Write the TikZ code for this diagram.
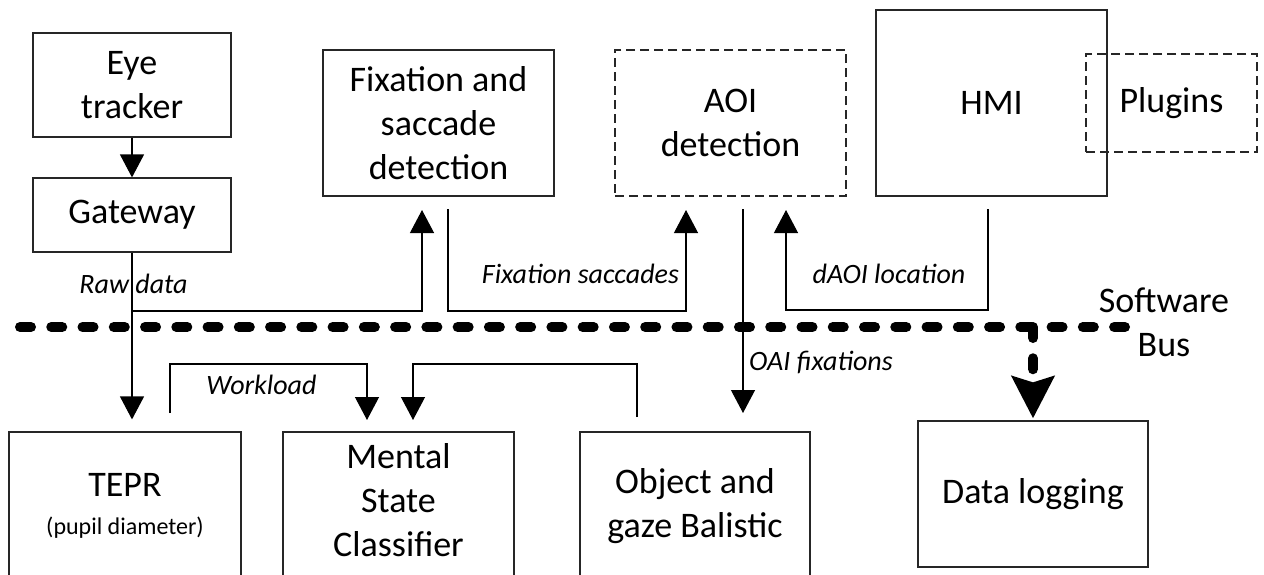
\documentclass[tikz,border=0pt]{standalone}
\usepackage{fontspec}
\setmainfont{Carlito}
\usetikzlibrary{arrows.meta,calc}
\begin{document}
\begin{tikzpicture}[x=1pt,y=-1pt,
  box/.style={draw=black!85, line width=1.2pt, inner sep=0pt, align=center,
    font=\fontsize{36}{44}\selectfont},
  dbox/.style={box, dash pattern=on 9pt off 5pt},
  lbl/.style={inner sep=0pt, font=\fontsize{28}{34}\selectfont\itshape},
  arr/.style={draw=black, line width=1.2pt, -{Triangle[width=24pt,length=23pt]}},
  busline/.style={draw=black, line width=10pt, line cap=round, dash pattern=on 11pt off 20.26pt},
]
\useasboundingbox[fill=white] (0,0) rectangle (1264,574);

% top row
\node[box, minimum width=198pt, minimum height=104pt] (eye) at (132,85) {Eye\\tracker};
\node[box, minimum width=198pt, minimum height=74pt] (gw) at (132,215) {Gateway};
\node[box, minimum width=231pt, minimum height=146pt] (fix) at (438.5,123) {Fixation and\\saccade\\detection};
\node[dbox, minimum width=231pt, minimum height=146pt] (aoi) at (730.5,123) {AOI\\detection};
\node[box, minimum width=231pt, minimum height=186pt] (hmi) at (991.5,103) {HMI};
\node[dbox, minimum width=171pt, minimum height=98pt] (plug) at (1171.5,103) {Plugins};

% bottom row
\node[box, minimum width=232pt, minimum height=148pt] (tepr) at (125,506)
  {TEPR\\[-6pt]{\fontsize{24}{29}\selectfont(pupil diameter)}};
\node[box, minimum width=231pt, minimum height=148pt] (ms) at (398.5,506)
  {Mental\\State\\Classifier\rule[-12pt]{0pt}{0pt}};
\node[box, minimum width=230pt, minimum height=148pt] (obj) at (695,506) {Object and\\gaze Balistic};
\node[box, minimum width=230pt, minimum height=146pt] (dl) at (1033,494) {Data logging};

% software bus
\coordinate (busL) at (20,327);
\coordinate (busR) at (1125,327);
\coordinate (busJ) at (1033,327);
\draw[busline] (busL) -- (busR);
\draw[busline, -{Stealth[width=42pt,length=42pt,inset=6pt]}] (busJ) -- ([yshift=2pt]dl.north);
\node[inner sep=0pt, align=center, font=\fontsize{36}{44}\selectfont] (busname) at (1164,322.5) {Software\\Bus};

% connector end points
\coordinate (rawj) at (132,311);
\coordinate (fixIn) at (422,210);
\coordinate (fixOut) at (448,209);
\coordinate (aoiIn) at (686,210);
\coordinate (aoiOut) at (743,209);
\coordinate (objIn) at (743,413);
\coordinate (hmiOut) at (988,209);
\coordinate (aoiIn2) at (786,210);
\coordinate (teprOut) at (170,413);
\coordinate (msInA) at (367,420);
\coordinate (objOut) at (637,417);
\coordinate (msInB) at (413,420);

% connectors
\draw[arr] (eye) -- (gw);
\draw[arr] (gw.south) -- ([yshift=12pt]gw.south |- tepr.north);
\draw[arr] (rawj) -| (fixIn);
\draw[arr] (fixOut) -- ++(0,102) -| (aoiIn);
\draw[arr] (aoiOut) -- (objIn);
\draw[arr] (hmiOut) -- ++(0,101) -| (aoiIn2);
\draw[arr] (teprOut) -- ++(0,-49) -| (msInA);
\draw[arr] (objOut) -- ++(0,-53) -| (msInB);

% labels
\node[lbl] (lraw) at (133.5,284) {Raw data};
\node[lbl] (lfs) at (580.5,274) {Fixation saccades};
\node[lbl] (ldaoi) at (889,274) {dAOI location};
\node[lbl] (loai) at (821,362) {OAI fixations};
\node[lbl] (lwl) at (261.5,385) {Workload};
\end{tikzpicture}
\end{document}
